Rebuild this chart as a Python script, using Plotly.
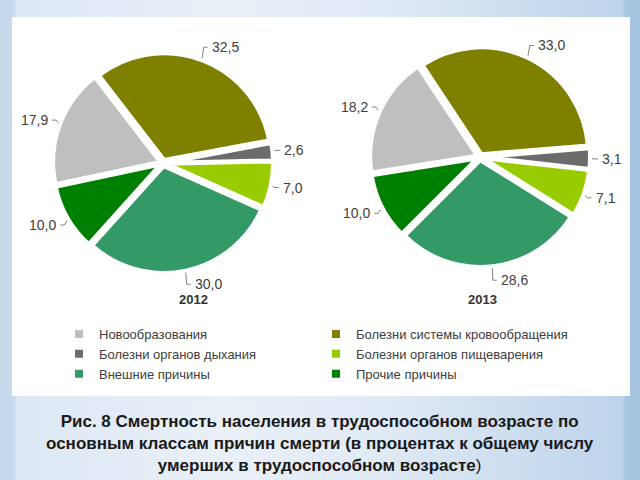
import math
import plotly.graph_objects as go

# ---------------- data ----------------
categories = [
    "Новообразования",
    "Болезни системы кровообращения",
    "Болезни органов дыхания",
    "Болезни органов пищеварения",
    "Внешние причины",
    "Прочие причины",
]
values_2012 = [17.9, 32.5, 2.6, 7.0, 30.0, 10.0]
values_2013 = [18.2, 33.0, 3.1, 7.1, 28.6, 10.0]
years = ["2012", "2013"]
colors = ["#bfbfbf", "#808000", "#6b6b6b", "#99cc00", "#339966", "#008000"]
caption_lines = [
    "Рис. 8 Смертность населения в трудоспособном возрасте по",
    "основным классам причин смерти (в процентах к общему числу",
    "умерших в трудоспособном возрасте",
]

# ---------------- layout constants ----------------
W, H = 640, 480
HALF = 110          # half size of each pie domain (px)
PULL = 0.03
BORDER = 4
FONT = "Liberation Sans, Arial, sans-serif"
pies = [
    dict(year=years[0], values=values_2012, cx=163, cy=163, rot=258, yx=193),
    dict(year=years[1], values=values_2013, cx=480, cy=157, rot=261, yx=482),
]

fig = go.Figure()

# background gradient (cartesian axes map 1 unit = 1 px)
fig.add_trace(go.Scatter(
    x=[0, W, W, 0, 0], y=[0, 0, H, H, 0], mode="lines", fill="toself",
    line=dict(width=0, color="rgba(0,0,0,0)"),
    fillgradient=dict(type="horizontal", colorscale=[
        [0.0, "#c3d7ea"], [0.022, "#c8dbec"], [0.026, "#dde8f4"],
        [0.35, "#e9f0f8"], [0.6, "#e0eaf5"], [0.972, "#bdd4eb"],
        [0.977, "#a9c6e2"], [1.0, "#a3c1df"]]),
    hoverinfo="skip", showlegend=False))

# white panel
fig.add_trace(go.Scatter(
    x=[12, 630, 630, 12, 12], y=[17, 17, 396, 396, 17], mode="lines", fill="toself",
    fillcolor="white", line=dict(width=0, color="white"),
    hoverinfo="skip", showlegend=False))

annotations = []
for k, p in enumerate(pies):
    vals = p["values"]
    total = sum(vals)
    fig.add_trace(go.Pie(
        labels=categories, values=vals, sort=False, direction="clockwise",
        rotation=p["rot"] if p["rot"] <= 180 else p["rot"] - 360,
        pull=PULL, textinfo="none", hoverinfo="label+value",
        marker=dict(colors=colors, line=dict(color="white", width=BORDER)),
        domain=dict(x=[(p["cx"] - HALF) / W, (p["cx"] + HALF) / W],
                    y=[(H - p["cy"] - HALF) / H, (H - p["cy"] + HALF) / H]),
        showlegend=(k == 0), name=p["year"]))

    # leader lines + value labels computed from slice angles
    lx, ly = [], []
    cum = 0.0
    for v in vals:
        mid = math.radians(p["rot"] + 360.0 * (cum + v / 2) / total)
        cum += v
        sx, sy = math.sin(mid), -math.cos(mid)
        ex, ey = p["cx"] + 108 * sx, p["cy"] + 108 * sy
        ax, ay = p["cx"] + 114 * sx, p["cy"] + 124 * sy
        side = 1 if sx >= 0 else -1
        hx = ax + 4 * side
        lx += [ex, ax, hx, None]
        ly += [ey, ay, ay, None]
        annotations.append(dict(
            x=hx + 2 * side, y=ay, xref="x", yref="y", showarrow=False,
            text=f"{v:.1f}".replace(".", ","),
            xanchor="left" if side > 0 else "right", yanchor="middle",
            font=dict(family=FONT, size=14, color="#404040")))
    fig.add_trace(go.Scatter(x=lx, y=ly, mode="lines",
                             line=dict(color="#808080", width=1),
                             hoverinfo="skip", showlegend=False))
    annotations.append(dict(
        x=p["yx"], y=299, xref="x", yref="y", showarrow=False, text=f"<b>{p['year']}</b>",
        xanchor="center", yanchor="middle",
        font=dict(family=FONT, size=13, color="#333333")))

# caption
cap = "<br>".join(f"<b>{t}</b>" for t in caption_lines[:-1]) + f"<br><b>{caption_lines[-1]}</b>)"
annotations.append(dict(
    x=320, y=443, xref="x", yref="y", showarrow=False, text=cap,
    xanchor="center", yanchor="middle", align="center",
    font=dict(family=FONT, size=17, color="#1a1a1a")))

fig.update_layout(
    width=W, height=H, autosize=False,
    margin=dict(l=0, r=0, t=0, b=0, pad=0),
    paper_bgcolor="#dfe9f4", plot_bgcolor="rgba(0,0,0,0)",
    xaxis=dict(range=[0, W], visible=False, fixedrange=True, domain=[0, 1]),
    yaxis=dict(range=[H, 0], visible=False, fixedrange=True, domain=[0, 1]),
    showlegend=True,
    legend=dict(orientation="h", entrywidth=212, entrywidthmode="pixels",
                x=59 / W, y=(H - 319) / H, xanchor="left", yanchor="top",
                bgcolor="rgba(0,0,0,0)", borderwidth=0, traceorder="normal",
                font=dict(family=FONT, size=13, color="#404040")),
    annotations=annotations,
)

fig.write_html("out.html")
